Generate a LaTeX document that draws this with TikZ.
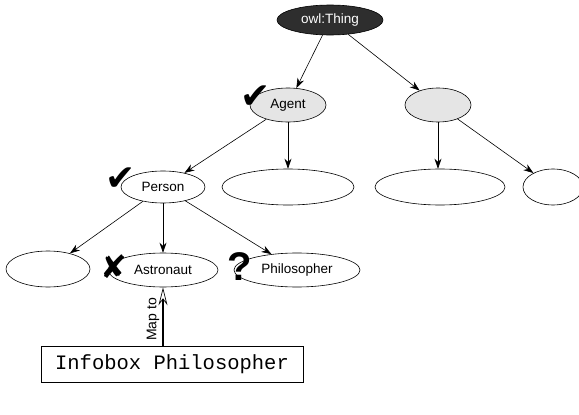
\documentclass[tikz,border=0pt]{standalone}
\usepackage{fontspec}
\setmainfont{Liberation Sans}
\newfontfamily\symfont{DejaVu Sans}
\newfontfamily\monofont{Liberation Mono}
\usetikzlibrary{shapes.geometric,arrows.meta}
\begin{document}
\begin{tikzpicture}[x=1pt,y=-1pt,
  cls/.style={draw,ellipse,line width=0.6pt,inner sep=0pt,font=\fontsize{13.5}{15}\selectfont},
  dark/.style={cls,fill=black!82,text=white},
  grey/.style={cls,fill=black!10},
  edge/.style={-{Stealth[length=10pt,width=7pt]},line width=0.6pt},
  symb/.style={font=\symfont\fontsize{36}{36}\selectfont,inner sep=0pt}]
\useasboundingbox (0,0) rectangle (579,415);
\node[dark,minimum width=106pt,minimum height=30pt] (thing) at (330,20) {owl:Thing};
\node[grey,minimum width=76pt,minimum height=34pt] (agent) at (288,105) {Agent};
\node[grey,minimum width=66pt,minimum height=34pt] (g2) at (438,105) {};
\node[cls,minimum width=84pt,minimum height=32pt] (person) at (163,187) {Person};
\node[cls,minimum width=132pt,minimum height=36pt] (e1) at (288,187) {};
\node[cls,minimum width=130pt,minimum height=36pt] (e2) at (440,187) {};
\node[cls,minimum width=60pt,minimum height=36pt] (e3) at (553,187) {};
\node[cls,minimum width=84pt,minimum height=36pt] (e4) at (48,269) {};
\node[cls,minimum width=110pt,minimum height=34pt] (astro) at (163,270) {Astronaut};
\node[cls,minimum width=126pt,minimum height=34pt] (philo) at (297,270) {Philosopher};
\node[draw,line width=0.8pt,minimum width=262pt,minimum height=36pt,font=\monofont\fontsize{20.5}{22}\selectfont] (box) at (172,364) {Infobox Philosopher};
\draw[edge] (thing) -- (agent);
\draw[edge] (thing) -- (g2);
\draw[edge] (agent) -- (person);
\draw[edge] (agent.south) -- (e1.north);
\draw[edge] (g2.south) -- (e2.north -| g2.south);
\draw[edge] (g2) -- (e3);
\draw[edge] (person) -- (e4);
\draw[edge] (person.south) -- (astro.north);
\draw[edge] (person) -- (philo);
\draw[-{Stealth[open,length=18pt,width=9pt,line width=0.7pt]},line width=1.4pt] (box.north -| astro.south) -- node[rotate=90,anchor=south,pos=0.45,inner sep=3pt,font=\fontsize{14}{16}\selectfont] {Map to} (astro.south);
\node[symb] (c1) at (256,97) {✔};
\node[symb] (c2) at (121,179) {✔};
\node[symb,font=\symfont\fontsize{32}{32}\selectfont] (x1) at (114,267) {✘};
\node[font=\bfseries\fontsize{40}{40}\selectfont,inner sep=0pt] (q) at (240,267) {?};
\end{tikzpicture}
\end{document}
